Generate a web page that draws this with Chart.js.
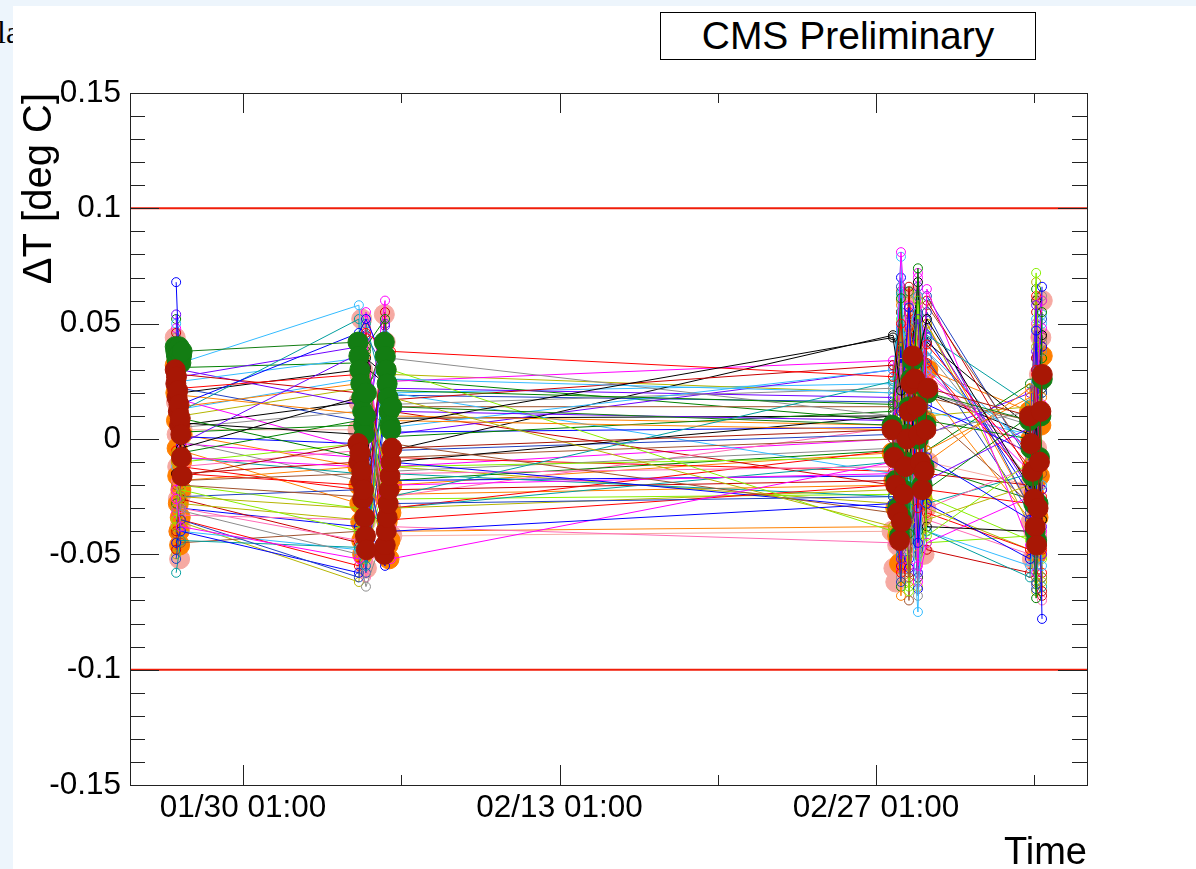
<!DOCTYPE html>
<html>
<head>
<meta charset="utf-8">
<title>ΔT vs Time</title>
<script src="https://cdn.jsdelivr.net/npm/chart.js@4.4.1/dist/chart.umd.min.js"></script>
<style>
  html, body { margin: 0; padding: 0; width: 1196px; height: 869px; overflow: hidden; background: #edf5fc; position: relative; }
  #side { position: absolute; left: -3px; top: 14px; font: 32px "Liberation Serif", serif; color: #000; }
  #panel { position: absolute; left: 13px; top: 6px; width: 1183px; height: 863px; background: #fff; }
  #cms { position: absolute; left: 647px; top: 6px; width: 374px; height: 46px; border: 1px solid #000;
         font: 39px "Liberation Sans", Arial, sans-serif; color: #000; text-align: center; line-height: 46px; background: #fff; }
  canvas { position: absolute; left: 0; top: 0; }
</style>
</head>
<body>
<div id="side">la</div>
<div id="panel">
  <canvas id="chart" width="1183" height="863"></canvas>
  <div id="cms">CMS Preliminary</div>
</div>
<script>
// Measurement stamps (MM/DD hh:mm) shared by the ring-marker sensors
const sensorTimes = [
  '01/27 02:00', '01/27 07:00',
  '02/04 04:00', '02/04 11:30',
  '02/05 07:45', '02/05 14:00',
  '02/27 19:00', '02/28 03:30', '02/28 12:00', '02/28 21:30', '03/01 07:00',
  '03/05 20:30', '03/06 03:00', '03/06 09:15'
];

// ΔT per sensor in mK, one row per sensor, one column per stamp above
const sensorRows_mK = [
  [ 12,  -4,  18,  31,  24,   6,  44,  21, -12,  35,  52, -21,   8, -35],
  [ 31,  22,  28,  46,  40,  38,  27,  50,  18, -30,  41, -12,  30, -48],
  [ 68,  15,  46,  52,  33, -40, -28,  12,  57, -45,  -8, -35,  47, -78],
  [ 38,   9,  -8,  40,  52,  21,  15,  61, -41,  74, -22,  10, -69,  55],
  [-26, -38, -52,   3,  60, -52, -10,  81,  30, -55,  65, -46,  12,  60],
  [ 40,  33,  58,  12,  45,  26,  20,  79, -20, -75,  38,  -5,  25, -55],
  [-10, -25, -30,  20, -12,  18, -38,  10,  40, -50, -35, -20,  40, -60],
  [  0,  19,  11, -22, -30,   8,   4, -40,  48,  31, -10,  22, -40,  18],
  [ 22,  12,  52, -55,  35, -25,  25,  63, -30,   7,  45,  15, -48,  30],
  [-41, -18, -15,  30, -45,  -2, -32,  55, -60,  22,  12, -28,  21, -15],
  [ 54,  -2,  37, -47,  49,  12,   8, -52,  33,  52, -18,   5,  58, -38],
  [-35, -22, -40,  10, -20,  30, -40,  18, -66,  60, -42, -10,  72, -30],
  [-30, -31, -50, -64, -40,  35,  10, -20,  50, -68,  20,   6, -50,  38],
  [  5, -12,  -5,  25, -33, -15, -12,  33, -48,  58,  28,  -8,  50, -42],
  [-52, -35, -60, -10, -50, -28, -25, -62,  42, -30,  55, -30, -63,  20],
  [ 46,  28,  20, -38,  55,  17,  32, -35,  66, -20,  60, -15,  35, -66],
  [-15,   7,   2,  35,  28, -10,  10, -45,  25,  68, -38, -40, -12,  45],
  [ 28, -15, -20,   8,  -8, -35, -20, -58,  12,  45,  33, -18,  62, -25],
  [-45, -40, -58, -35, -55, -10, -30,  40, -56,  15, -28, -52, -30,  66],
  [ 18,   3,   6, -12,  14,   1,  12,  38, -15, -40,   8,   0, -25,  35],
  [-22,  -8, -12,  44, -25, -20, -15, -30,  58, -62, -45, -25, -58,  48],
  [ 50,  25,  35, -28,  20,   5,  30, -10,  45,  62,  30,  -2,  52, -20],
  [ -6, -28, -35,  15,   5, -30, -22,  46, -36, -12,  50, -38,  68, -62],
  [ 35,  14,  24, -45, -15,  10,   6, -68,  22,  38,  -5,  18, -35,  10],
  [-58, -44, -47, -30, -38, -15, -25, -50,  35,  54, -40, -60,   5, -45],
  [ 25, -20, -25,  48, -50,  -8,   0,  28, -70,  10,  18,   8, -62,  25],
  [  8,  30,  15, -18,  38,  22,  18, -25,  42, -58,  48, -22,  38, -50],
  [-38, -10,  -2, -52,  20, -12,  -8,  52, -22,  28, -25, -44, -20,  60],
  [ 44,   5,  12,  28, -22,  15,  22, -15,  60, -35,   3,  12, -55,  42],
  [-18, -30, -44,   5, -35, -38, -45,  20, -50,  48, -30, -12,  45, -70],
  [ 15, -25, -22, -58,  10,  -5,   2,  66, -28, -48,  35, -32, -15,  52],
  [-48, -15, -10,  22, -52, -22, -18, -55,  38,  62, -15, -20,  55, -28],
  [ 33,  20,  30,  -8,  32,  -5,  45,  35, -44, -22,  42,   5, -45,  22],
  [ -5, -35, -55,  18, -26, -30,  -5, -28,  55,   8, -32, -48,  28, -58],
  [ 20,   1,  -2, -33,  42,   3,   5,  48,  10, -65,  15,  -6,  -8,  40],
  [-28,  -6,   8,  38, -42, -18,  -5, -64,  32,  44, -12, -26,  65, -10],
  [ 48,  17,  -4,  55,  26,  25,  34,  14, -55,  70,  25,  -4, -30,  15],
  [-12, -40, -48, -15, -46,  20, -15,  30, -20, -58, -40, -55, -40,  50],
  [  3,  10,  22, -40,  -5,  28,  20, -42,  63,  16,  10,  14,  48, -35],
  [-33,  -5, -28,  14, -30, -40, -38,  58, -62, -25,  22, -35, -52,  30],
  [ 26,  -8, -15,  50,  18, -30, -10, -20,  46,  55, -28, -15,  22, -64],
  [-20, -45, -40, -25, -15,  14,  14,  64, -35, -18,  58,  -8, -60,  44],
  [ 40,  27,  40,   6,  50,   2,  30, -32,  20,  66,   2,  20,  35, -22],
  [ -8, -20, -30, -50, -18, -26, -24,  42, -64,  30, -45, -42,  10, -52],
  [ 14,  -1, -18,  32,   8, -14,  -4, -60,  40, -40,  38, -18, -38,  62],
  [-25, -33, -35, -60, -38, -25,   5,  25, -45,  60, -35, -50,  44, -42],
  [ 10,  22,   8,  45,  30,  19,  16, -48,  54, -26,  62, -10, -65,  25],
  [-40, -26, -45,   0, -28,  12, -20,  38, -58,  12, -48, -58,  15, -68],
  [ 30,   6,  16, -30,  44,   9,  10,  55, -18, -60,  20,   2,  60, -22],
  [-15, -12, -22,  20, -40,  -8, -14, -38,  30,  50, -22, -28, -48,  40],
  [  6, -30, -38, -45,  12, -18, -16,  70, -52,  24,  44, -24,  30, -60],
  [ 52,  31,  33,  22,  35,  26,   8, -18,  64, -42,  -5,  24, -32,  20],
  [-32,  -2,  -8, -55,  -6, -12,   0, -56,  18,  72,  30, -14,  50, -40],
  [ 16,  13,  26,  10, -12,  20,  24,  30, -38, -50,  12,   2, -20,  54],
  [-50, -36, -62, -20, -48, -12, -28, -42,  46, -64, -30, -48, -66,  30],
  [ 24, -18, -12,  36, -20, -24, -20,  60, -10,  38,  50, -30,  20, -46]
];

// Densely sampled readout stamps of the four filled-marker channels
const denseTimes = [
  '01/27 01:00', '01/27 01:40', '01/27 02:20', '01/27 03:00', '01/27 03:40', '01/27 04:20',
  '01/27 05:00', '01/27 05:40', '01/27 06:20', '01/27 07:00', '01/27 07:40', '01/27 08:20',
  '02/04 03:00', '02/04 04:00', '02/04 05:00', '02/04 06:00', '02/04 07:00',
  '02/04 08:00', '02/04 09:00', '02/04 10:00', '02/04 11:00', '02/04 12:00',
  '02/05 07:00', '02/05 08:00', '02/05 09:00', '02/05 10:00', '02/05 11:00',
  '02/05 12:00', '02/05 13:00', '02/05 14:00', '02/05 15:00',
  '02/27 18:00', '02/27 20:00', '02/27 22:00', '02/28 00:00', '02/28 02:00',
  '02/28 04:00', '02/28 06:00', '02/28 08:00', '02/28 10:00', '02/28 12:00',
  '02/28 14:00', '02/28 16:00', '02/28 18:00', '02/28 20:00', '02/28 22:00',
  '03/01 00:00', '03/01 02:00', '03/01 04:00', '03/01 06:00', '03/01 08:00',
  '03/05 20:00', '03/05 21:30', '03/05 23:00', '03/06 00:30', '03/06 02:00',
  '03/06 03:30', '03/06 05:00', '03/06 06:30', '03/06 08:00', '03/06 09:30'
];
const darkRed_mK = [
  30, 24, 27, 18, 21, 12, 15, 6, 9, 2, -8, -16,
  -2, -10, -6, -18, -14, -26, -22, -34, -42, -48,
  -50, -46, -40, -34, -28, -22, -16, -10, -4,
  4, -8, -20, -32, -44, -36, -24, -12, 0, 12, 24, 36, 26, 14, 2, -10, -22, -14, 4, 22,
  10, -2, -14, -26, -38, -46, -30, -10, 12, 28
];
const orange_mK = [
  32, 20, 8, -4, -16, -28, -40, -46, -34, -22, -10, 2,
  -12, -20, -28, -36, -44, -50, -42, -34, -26, -18,
  -10, -18, -26, -36, -46, -52, -44, -32, -20,
  -6, -18, -30, -42, -54, -40, -26, -12, 2, 16, 30, 42, 30, 16, 2, -12, -26, -14, 8, 30,
  12, 0, -12, -24, -36, -50, -34, -16, 6, 36
];
const pink_mK = [
  44, 30, 16, 2, -12, -26, -40, -52, -38, -24, -10, 4,
  4, 16, 28, 40, 52, 30, 8, -14, -36, -56,
  54, 42, 30, 18, 6, -6, -18, -30, -42,
  -40, -56, -62, -46, -30, -14, 2, 18, 34, 50, 62, 46, 30, 14, -2, -18, -34, -50, -30, -10,
  -20, -36, -52, -40, -20, -4, 12, 28, 44, 60
];
const green_mK = [
  40, 38, 36, 34, 36, 38, 40, 37, 35, 33, 36, 38,
  42, 36, 30, 24, 18, 12, 6, 2, 10, 20,
  42, 36, 30, 24, 18, 12, 6, 4, 14,
  6, -6, -18, -30, -42, -34, -22, -10, 2, 14, 26, 34, 24, 12, 0, -12, -20, -12, 6, 20,
  8, -4, -16, -28, -40, -44, -28, -8, 10, 26
];

// Tolerance band and axes
const limitLines = [0.1, -0.1];
const xRange = ['01/25 01:00', '03/08 09:00'];
const xTickLabels = ['01/30 01:00', '02/13 01:00', '02/27 01:00'];
const yTickValues = [-0.15, -0.1, -0.05, 0, 0.05, 0.1, 0.15];

// Marker colours for the ring-marker sensors
const ringColors = ['#000000', '#ff0000', '#0000ff', '#008000', '#ff00ff', '#33bbff', '#b5b500', '#ff8000',
                    '#009e9e', '#a0522d', '#6f00ff', '#88ee00', '#8c8c8c', '#ff69b4', '#2040c0', '#c80000'];

// "MM/DD hh:mm" -> fractional day of the year (Jan 1 00:00 = 0)
const monthStart = [0, 31, 59, 90];
function parseStamp(s) {
  const [md, hm] = s.split(' ');
  const [mo, dd] = md.split('/').map(Number);
  const [hh, mi] = hm.split(':').map(Number);
  return monthStart[mo - 1] + (dd - 1) + hh / 24 + mi / 1440;
}

const sensorX = sensorTimes.map(parseStamp);
const denseX = denseTimes.map(parseStamp);
const xMin = parseStamp(xRange[0]);
const xMax = parseStamp(xRange[1]);
const xMajor = xTickLabels.map(parseStamp);

const datasets = [];

limitLines.forEach(v => {
  datasets.push({
    data: [{ x: xMin, y: v }, { x: xMax, y: v }],
    showLine: true, borderColor: '#f01e0a', borderWidth: 2,
    pointRadius: 0, order: 0
  });
});

function filledSeries(values, color, radius, order) {
  return {
    data: values.map((v, i) => ({ x: denseX[i], y: v / 1000 })),
    showLine: true, borderColor: color, backgroundColor: color, borderWidth: 1,
    pointRadius: radius, pointBorderWidth: 1, pointBorderColor: color, pointBackgroundColor: color,
    order
  };
}

datasets.push(filledSeries(darkRed_mK, '#a81705', 10, 1));
datasets.push(filledSeries(green_mK, '#137d13', 10, 2));

sensorRows_mK.forEach((row, k) => {
  const c = ringColors[k % ringColors.length];
  datasets.push({
    data: row.map((v, i) => ({ x: sensorX[i], y: v / 1000 })),
    showLine: true, borderColor: c, borderWidth: 1,
    pointRadius: 4.5, pointBorderWidth: 1, pointBorderColor: c, pointBackgroundColor: 'rgba(0,0,0,0)',
    order: 3
  });
});

datasets.push(filledSeries(orange_mK, '#ff7f00', 10, 4));
datasets.push(filledSeries(pink_mK, '#f6a9a2', 10, 5));

// ROOT-style frame with inward major/minor tick marks on all four sides
const rootFrame = {
  id: 'rootFrame',
  afterDraw(chart) {
    const { ctx, chartArea: a, scales: { x, y } } = chart;
    ctx.save();
    ctx.strokeStyle = '#222';
    ctx.lineWidth = 1;
    ctx.beginPath();
    for (let i = -15; i <= 15; i++) {
      const py = Math.round(y.getPixelForValue(i / 100)) + 0.5;
      const len = i % 5 === 0 ? 29 : 15;
      ctx.moveTo(a.left, py); ctx.lineTo(a.left + len, py);
      ctx.moveTo(a.right, py); ctx.lineTo(a.right - len, py);
    }
    const xt = [];
    xMajor.forEach(v => { xt.push([v, 20]); xt.push([v + 7, 10]); });
    xt.forEach(([v, len]) => {
      if (v < xMin || v > xMax) return;
      const px = Math.round(x.getPixelForValue(v)) + 0.5;
      ctx.moveTo(px, a.bottom); ctx.lineTo(px, a.bottom - len);
      ctx.moveTo(px, a.top); ctx.lineTo(px, a.top + len);
    });
    ctx.stroke();
    ctx.strokeRect(Math.round(a.left) + 0.5, Math.round(a.top) + 0.5,
                   Math.round(a.right - a.left), Math.round(a.bottom - a.top));
    ctx.restore();
  }
};

Chart.defaults.font.family = '"Liberation Sans", Arial, Helvetica, sans-serif';
Chart.defaults.color = '#000';

new Chart(document.getElementById('chart'), {
  type: 'scatter',
  data: { datasets },
  options: {
    responsive: false,
    animation: false,
    events: [],
    layout: { padding: { top: 87, right: 109, left: 0, bottom: 0 } },
    plugins: { legend: { display: false }, tooltip: { enabled: false } },
    scales: {
      x: {
        type: 'linear', min: xMin, max: xMax,
        grid: { display: false, drawTicks: false },
        border: { display: false },
        afterBuildTicks: s => { s.ticks = xMajor.map(v => ({ value: v })); },
        afterFit: s => { s.height = 84; },
        ticks: {
          autoSkip: false, maxRotation: 0, minRotation: 0, padding: 4,
          font: { size: 31.5 },
          callback: (v, i) => xTickLabels[i]
        },
        title: { display: true, text: 'Time', align: 'end', font: { size: 38, lineHeight: 0.8 }, padding: { top: 0, bottom: 0 } }
      },
      y: {
        type: 'linear', min: -0.15, max: 0.15,
        grid: { display: false, drawTicks: false },
        border: { display: false },
        afterBuildTicks: s => { s.ticks = yTickValues.map(v => ({ value: v })); },
        afterFit: s => { s.width = 117; },
        ticks: {
          padding: 9,
          font: { size: 31.5 },
          callback: v => String(Math.round(v * 100) / 100)
        },
        title: { display: true, text: 'ΔT [deg C]', align: 'end', font: { size: 40, lineHeight: 1 }, padding: { top: 7, bottom: 0 } }
      }
    }
  },
  plugins: [rootFrame]
});
</script>
</body>
</html>
